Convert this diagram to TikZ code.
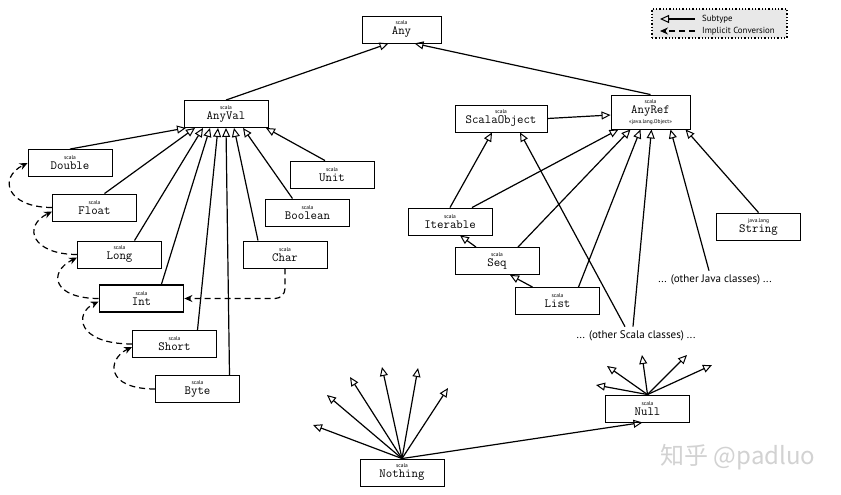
\documentclass[tikz,border=0pt]{standalone}
\usepackage{fontspec}
\setsansfont{PT Sans}
\newfontfamily\cjkfont{Noto Sans CJK SC}
\usetikzlibrary{arrows.meta}
\newcommand\cl[2]{{\sffamily\fontsize{5.5}{6}\selectfont #1}\\[-2pt]{\ttfamily\fontsize{12.5}{12.5}\selectfont #2}}
\begin{document}
\begin{tikzpicture}[x=1pt,y=-1pt,
  cls/.style={draw, line width=0.9pt, fill=white, minimum width=84pt, minimum height=27pt, inner sep=0pt, align=center},
  sub/.style={line width=1.2pt, -{Triangle[open, length=9pt, width=8pt, line width=1pt]}},
  conv/.style={line width=1.2pt, dash pattern=on 6pt off 4pt, -{Stealth[length=8pt, width=7pt]}},
  txt/.style={font=\sffamily\fontsize{11}{13}\selectfont, inner sep=4pt}]
\fill[white] (0,0) rectangle (841,495);
\useasboundingbox (0,0) rectangle (841,495);
% legend
\node[draw, dotted, line width=1.3pt, fill=gray!18, minimum width=135pt, minimum height=29pt] (legend) at (719.5,23.5) {};
\coordinate (la1) at (660,19); \coordinate (lb1) at (695,19);
\coordinate (la2) at (660,31); \coordinate (lb2) at (695,31);
\draw[sub] (lb1) -- (la1);
\draw[conv] (lb2) -- (la2);
\node[anchor=west, font=\sffamily\fontsize{8.8}{9}\selectfont, inner sep=0pt] (lt1) at (702,19) {Subtype};
\node[anchor=west, font=\sffamily\fontsize{8.8}{9}\selectfont, inner sep=0pt] (lt2) at (702,31) {Implicit Conversion};
% nodes
\node[cls, minimum width=79pt] (Any) at (401.5,29.5) {\cl{scala}{Any}};
\node[cls] (AnyVal) at (226,114) {\cl{scala}{AnyVal}};
\node[cls] (Double) at (70,163) {\cl{scala}{Double}};
\node[cls] (Float) at (94.5,207.5) {\cl{scala}{Float}};
\node[cls] (Long) at (119.5,254.5) {\cl{scala}{Long}};
\node[cls, line width=1.8pt] (Int) at (141.5,298.5) {\cl{scala}{Int}};
\node[cls] (Short) at (174.5,344) {\cl{scala}{Short}};
\node[cls] (Byte) at (197.5,389) {\cl{scala}{Byte}};
\node[cls] (Unit) at (332,174.5) {\cl{scala}{Unit}};
\node[cls] (Boolean) at (307.5,212.5) {\cl{scala}{Boolean}};
\node[cls] (Char) at (285,254.5) {\cl{scala}{Char}};
\node[cls, minimum width=92pt] (ScalaObject) at (501,118.5) {\cl{scala}{ScalaObject}};
\node[cls, minimum width=79pt, minimum height=34pt] (AnyRef) at (650.5,112) {\cl{scala}{AnyRef}\\[-2pt]{\sffamily\fontsize{5.5}{6}\selectfont «java.lang.Object»}};
\node[cls] (Iterable) at (450,221.5) {\cl{scala}{Iterable}};
\node[cls] (Seq) at (497,261) {\cl{scala}{Seq}};
\node[cls] (List) at (557.5,301) {\cl{scala}{List}};
\node[cls] (String) at (758.5,226.5) {\cl{java.lang}{String}};
\node[cls] (Nothing) at (402,472.5) {\cl{scala}{Nothing}};
\node[cls] (Null) at (647.5,408.5) {\cl{scala}{Null}};
\node[txt] (ojava) at (715,280) {... (other Java classes) ...};
\node[txt] (oscala) at (636,336) {... (other Scala classes) ...};
\node[font=\cjkfont\fontsize{24}{26}\selectfont, text=gray!35, inner sep=0pt] (wm) at (738,457) {知乎 @padluo};
% subtype edges
\draw[sub] (AnyVal.north) -- ([xshift=-13pt]Any.south);
\draw[sub] (AnyRef.north) -- ([xshift=13pt]Any.south);
\draw[sub] (Double.north) -- ([xshift=-40pt]AnyVal.south);
\draw[sub] ([xshift=10pt]Float.north) -- ([xshift=-31pt]AnyVal.south);
\draw[sub] ([xshift=15pt]Long.north) -- ([xshift=-23pt]AnyVal.south);
\draw[sub] ([xshift=20pt]Int.north) -- ([xshift=-16pt]AnyVal.south);
\draw[sub] ([xshift=23pt]Short.north) -- ([xshift=-8pt]AnyVal.south);
\draw[sub] ([xshift=32pt]Byte.north) -- ([xshift=0pt]AnyVal.south);
\draw[sub] ([xshift=-27pt]Char.north) -- ([xshift=8pt]AnyVal.south);
\draw[sub] ([xshift=-15pt]Boolean.north) -- ([xshift=17pt]AnyVal.south);
\draw[sub] ([xshift=-7pt]Unit.north) -- ([xshift=40pt]AnyVal.south);
\draw[sub] (ScalaObject.east) -- ([yshift=-3pt]AnyRef.west);
\draw[sub] (Iterable.north) -- ([xshift=-9pt]ScalaObject.south);
\draw[sub] ([xshift=22pt]Iterable.north) -- ([xshift=-32pt]AnyRef.south);
\draw[sub] ([xshift=-21pt]Seq.north) -- ([xshift=10pt]Iterable.south);
\draw[sub] ([xshift=21pt]Seq.north) -- ([xshift=-20pt]AnyRef.south);
\draw[sub] ([xshift=-25pt]List.north) -- ([xshift=13pt]Seq.south);
\draw[sub] ([xshift=21pt]List.north) -- ([xshift=-10pt]AnyRef.south);
\draw[sub] ([xshift=-11pt]oscala.north) -- ([xshift=19pt]ScalaObject.south);
\draw[sub] ([xshift=-3pt]oscala.north) -- ([xshift=1pt]AnyRef.south);
\draw[sub] ([xshift=-6pt]ojava.north) -- ([xshift=20pt]AnyRef.south);
\draw[sub] (String.north) -- ([xshift=35pt]AnyRef.south);
% Nothing
\coordinate (n1) at (313,425); \coordinate (n2) at (327,395); \coordinate (n3) at (350,377);
\coordinate (n4) at (382,367); \coordinate (n5) at (418,368); \coordinate (n6) at (448,388);
\foreach \c in {n1,n2,n3,n4,n5,n6} \draw[sub] (Nothing.north) -- (\c);
\draw[sub] (Nothing.north) -- ([xshift=-5pt]Null.south);
% Null
\coordinate (m1) at (596,385); \coordinate (m2) at (607,366); \coordinate (m3) at (642,355);
\coordinate (m4) at (687,355); \coordinate (m5) at (712,365);
\foreach \c in {m1,m2,m3,m4,m5} \draw[sub] (Null.north) -- (\c);
% implicit conversions
\draw[conv] (Float.west) .. controls +(-45,0) and +(-30,15) .. (Double.west);
\draw[conv] (Long.west) .. controls +(-45,0) and +(-30,15) .. ([yshift=-4pt]Float.west);
\draw[conv] (Int.west) .. controls +(-45,0) and +(-30,15) .. ([yshift=-3pt]Long.west);
\draw[conv] (Short.west) .. controls +(-55,0) and +(-25,12) .. ([yshift=-3pt]Int.west);
\draw[conv] (Byte.west) .. controls +(-50,0) and +(-25,12) .. ([yshift=-3pt]Short.west);
\draw[conv, rounded corners=10pt] (Char.south) |- (Int.east);
\end{tikzpicture}
\end{document}
